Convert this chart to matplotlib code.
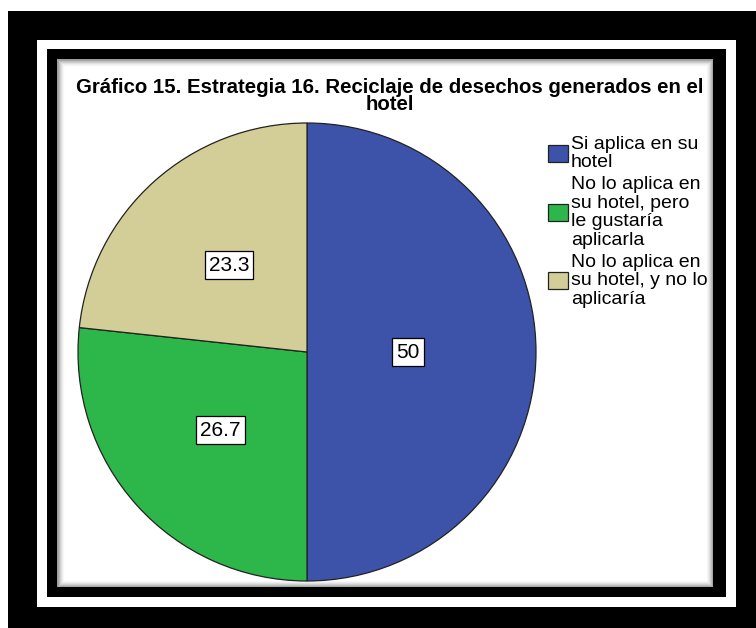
import numpy as np
import matplotlib.pyplot as plt
from matplotlib.patches import Rectangle

plt.rcParams['font.family'] = ['Liberation Sans', 'DejaVu Sans']

# Datos del gráfico
categorias = ["Si aplica en su\nhotel",
              "No lo aplica en\nsu hotel, pero\nle gustaría\naplicarla",
              "No lo aplica en\nsu hotel, y no lo\naplicaría"]
porcentajes = [50, 26.7, 23.3]
colores = ["#3D52A9", "#2DB74A", "#D3CE97"]
titulo = "Gráfico 15. Estrategia 16. Reciclaje de desechos generados en el\nhotel"

W, H = 756, 628
fig = plt.figure(figsize=(W / 100, H / 100), dpi=100)


def rect_px(x0, y0, x1, y1, **kw):
    # rectángulo en píxeles (origen arriba a la izquierda), detrás de todo
    r = Rectangle((x0 / W, 1 - y1 / H), (x1 - x0) / W, (y1 - y0) / H,
                  transform=fig.transFigure, zorder=-10, **kw)
    fig.add_artist(r)
    return r


# marco doble negro
rect_px(8, 11, 760, 640, facecolor="black", edgecolor="none")
rect_px(37, 40, 736, 607, facecolor="white", edgecolor="none")
rect_px(47, 49, 726, 597, facecolor="black", edgecolor="none")
rect_px(57, 59, 713, 587, facecolor="white", edgecolor="none")
# sombra interior suave
for i in range(8):
    a = 0.35 * (1 - i / 8) ** 2
    rect_px(57 + i, 59 + i, 713 - i, 587 - i, facecolor="none",
            edgecolor=(0, 0, 0, a), linewidth=1)

fig.text(390 / W, 1 - 78 / H, titulo, ha="center", va="top",
         fontsize=14.7, fontweight="bold", linespacing=0.9)

# pastel
cx, cy, r = 307, 352, 229
lado = 470
ax = fig.add_axes([(cx - lado / 2) / W, 1 - (cy + lado / 2) / H, lado / W, lado / H])
wedges, _ = ax.pie(porcentajes, colors=colores, startangle=90, counterclock=False,
                   wedgeprops=dict(edgecolor="#222222", linewidth=0.9))
lim = lado / 2 / r
ax.set_xlim(-lim, lim)
ax.set_ylim(-lim, lim)
ax.set_aspect("equal")
ax.axis("off")

dist = [0.44, 0.51, 0.51]
for w, val, d in zip(wedges, porcentajes, dist):
    ang = np.deg2rad((w.theta1 + w.theta2) / 2)
    ax.text(d * np.cos(ang), d * np.sin(ang), f"{val:g}", ha="center", va="center",
            fontsize=15,
            bbox=dict(boxstyle="square,pad=0.2", facecolor="white",
                      edgecolor="black", linewidth=0.9))

leg = fig.legend(wedges, categorias, loc="upper left",
                 bbox_to_anchor=(540 / W, 1 - 128 / H), frameon=False,
                 fontsize=14, handlelength=1.05, handleheight=1.0,
                 handletextpad=0.15, labelspacing=0.25, borderaxespad=0)
for t in leg.get_texts():
    t.set_linespacing(1.12)

fig.savefig("out.png", dpi=100)
